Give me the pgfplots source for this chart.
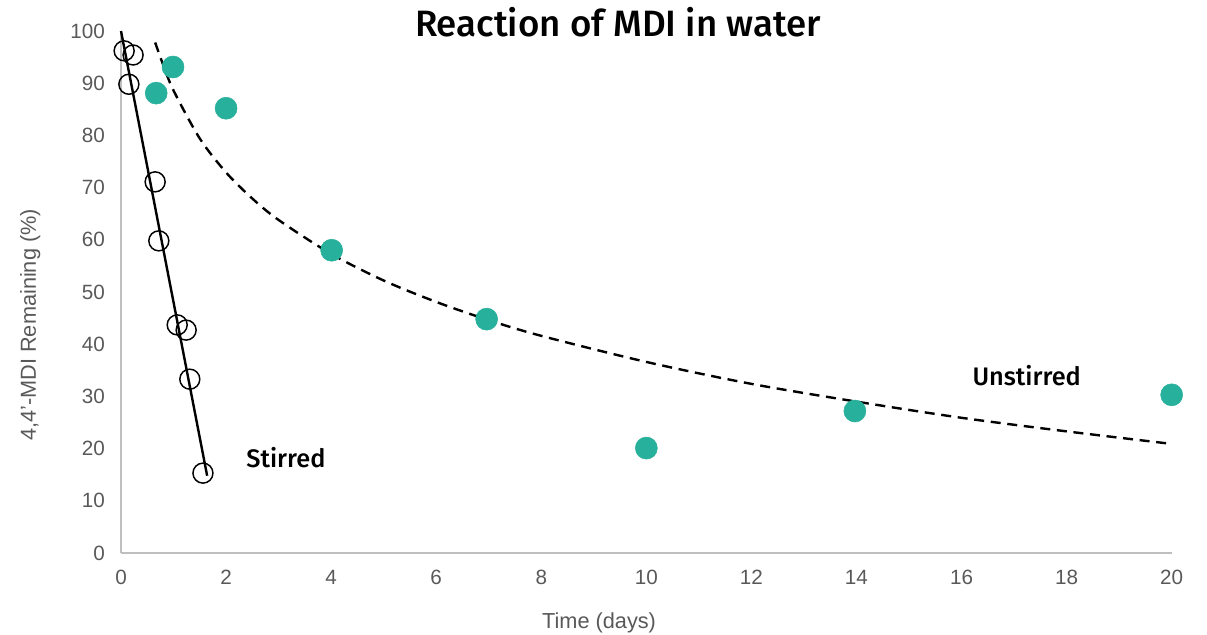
\documentclass[border=0pt]{standalone}
\usepackage{fontspec}
\setmainfont{Liberation Sans}
\newfontfamily\labfont{Fira Sans Medium}
\usepackage{pgfplots}
\pgfplotsset{compat=1.18}
\definecolor{mditeal}{HTML}{27B09B}
\definecolor{tickgray}{HTML}{595959}
\definecolor{axgray}{HTML}{BFBFBF}

\begin{document}
\begin{tikzpicture}
\path[use as bounding box] (-90.75pt,-61.5pt) rectangle (814.5pt,414.75pt);
\begin{axis}[
    scale only axis,
    width=788pt, height=391.5pt,
    xmin=0, xmax=20, ymin=0, ymax=100,
    xtick={0,2,...,20}, ytick={0,10,...,100},
    axis x line=bottom, axis y line=left,
    axis line style={axgray, line width=1.1pt, -},
    major tick length=0pt,
    /pgf/number format/assume math mode=true,
    tick label style={font=\fontsize{15.5}{18}\selectfont, text=tickgray},
    yticklabel style={xshift=-8.5pt},
    xticklabel style={yshift=-9.5pt},
    xlabel={Time (days)},
    ylabel={4,4'-MDI Remaining (\%)},
    label style={font=\fontsize{16.3}{19}\selectfont, text=tickgray},
    xlabel style={at={(rel axis cs:0.455,-0.1335)}, anchor=center},
    ylabel style={at={(rel axis cs:-0.0863,0.437)}, anchor=center},
    clip=false,
]
    % unstirred measurements
    \addplot[only marks, mark=*, mark size=8.25pt, color=mditeal] coordinates {
        (0.67,88.1) (0.99,93.1) (2.0,85.2) (4.01,58.0) (6.96,44.8)
        (10.0,20.1) (13.97,27.2) (20.0,30.3)
    };
    % unstirred trend
    \addplot[black, line width=1.8pt, dash pattern=on 7.5pt off 5pt, smooth] coordinates {
        (0.65,97.8) (0.8,93.6) (1,88.6) (1.5,79.4) (2,72.9) (2.5,67.9) (3,63.8)
        (4,57.3) (5,52.2) (6,48.1) (7,44.6) (8,41.6) (10,36.6) (12,32.4)
        (14,29.0) (16,25.9) (18,23.3) (20,20.9)
    };
    % stirred measurements
    \addplot[only marks, mark=o, mark size=7.5pt, black, mark options={line width=1.1pt}] coordinates {
        (0.06,96.2) (0.23,95.4) (0.15,89.8) (0.65,71.1) (0.72,59.8)
        (1.07,43.7) (1.24,42.7) (1.31,33.3) (1.56,15.3)
    };
    % stirred trend
    \addplot[black, line width=1.8pt] coordinates {(0,100) (1.64,14.8)};

    \node[font=\labfont\fontsize{27.5}{32}\selectfont] at (axis cs:9.46,101.7) {Reaction of MDI in water};
    \node[font=\labfont\fontsize{19}{23}\selectfont] at (axis cs:3.14,18.2) {Stirred};
    \node[font=\labfont\fontsize{19}{23}\selectfont] at (axis cs:17.24,33.9) {Unstirred};
\end{axis}
\end{tikzpicture}
\end{document}
